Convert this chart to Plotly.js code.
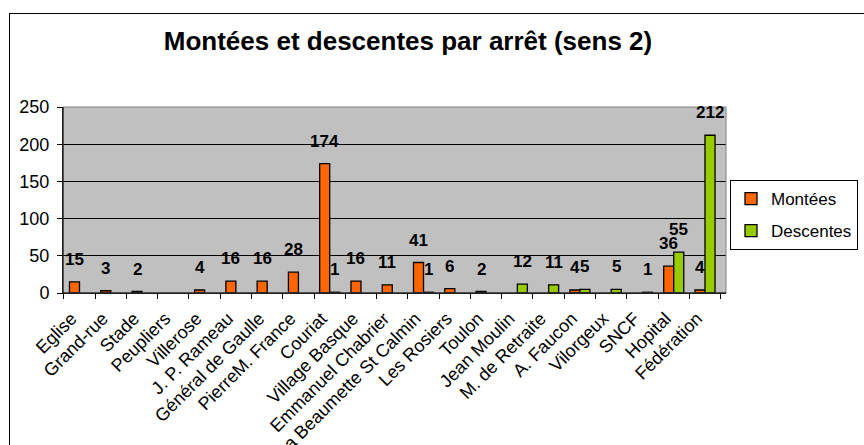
<!DOCTYPE html>
<html>
<head>
<meta charset="utf-8">
<script src="https://cdn.plot.ly/plotly-3.0.1.min.js"></script>
<style>
  html, body { margin: 0; padding: 0; background: #fff; }
  #wrap { position: relative; width: 864px; height: 445px; overflow: hidden; }
  #chart { position: absolute; left: 0; top: 0; width: 864px; height: 445px; }
  #frame { position: absolute; left: 9px; top: 13px; width: 900px; height: 500px; border: 1px solid #000; pointer-events: none; }
</style>
</head>
<body>
<div id="wrap">
  <div id="chart"></div>
  <div id="frame"></div>
</div>
<script>
const stops = ["Eglise", "Grand-rue", "Stade", "Peupliers", "Villerose", "J. P. Rameau",
  "Général de Gaulle", "PierreM. France", "Couriat", "Village Basque", "Emmanuel Chabrier",
  "La Beaumette St Calmin", "Les Rosiers", "Toulon", "Jean Moulin", "M. de Retraite",
  "A. Faucon", "Vilorgeux", "SNCF", "Hopital", "Fédération"];
const montees = [15, 3, 2, null, 4, 16, 16, 28, 174, 16, 11, 41, 6, 2, null, null, 4, null, null, 36, 4];
const descentes = [null, null, null, null, null, null, null, null, 1, null, null, 1, null, null, 12, 11, 5, 5, 1, 55, 212];

const yTicks = [0, 50, 100, 150, 200, 250];

const font = "Arial, 'Liberation Sans', sans-serif";

function labels(vals, shift) {
  const out = [];
  vals.forEach((v, i) => {
    if (v !== null && v !== undefined) {
      out.push({
        x: stops[i], y: v, xref: 'x', yref: 'y',
        text: String(v), showarrow: false,
        xanchor: 'center', yanchor: 'bottom',
        xshift: shift, yshift: 11,
        font: {family: font, size: 17, color: '#000', weight: 'bold'}
      });
    }
  });
  return out;
}

const traces = [
  {type: 'bar', name: 'Montées', x: stops, y: montees, legendgroup: 'a',
   marker: {color: '#FF6600', line: {color: '#000', width: 1.3}}, hoverinfo: 'x+y'},
  {type: 'bar', name: 'Descentes', x: stops, y: descentes, legendgroup: 'b',
   marker: {color: '#99CC00', line: {color: '#000', width: 1.3}}, hoverinfo: 'x+y'}
];

const layout = {
  width: 864, height: 445,
  margin: {l: 63, r: 138, t: 107, b: 152},
  paper_bgcolor: 'rgba(0,0,0,0)',
  plot_bgcolor: '#C0C0C0',
  barmode: 'group', bargap: 0.36, bargroupgap: 0,
  font: {family: font, size: 17, color: '#000'},
  title: {
    text: '<b>Montées et descentes par arrêt (sens 2)</b>',
    font: {family: font, size: 26, color: '#000'},
    x: 408 / 864, xanchor: 'center', y: 1 - 41 / 445, yanchor: 'middle'
  },
  xaxis: {
    type: 'category', tickangle: -45, automargin: false,
    tickson: 'boundaries', ticks: 'outside', ticklen: 5, tickcolor: '#000',
    ticklabelshift: -8, ticklabelstandoff: 7,
    showline: true, linecolor: '#000', linewidth: 1,
    showgrid: false, tickfont: {family: font, size: 18, color: '#000'}
  },
  yaxis: {
    range: [0, 250], tickvals: yTicks, ticktext: yTicks.map(String), automargin: false,
    ticks: 'outside', ticklen: 5, tickcolor: '#000', ticklabelstandoff: 4,
    showline: true, linecolor: '#000', linewidth: 1,
    showgrid: true, gridcolor: '#000', gridwidth: 1, zeroline: false,
    tickfont: {family: font, size: 18, color: '#000'}
  },
  showlegend: true,
  legend: {
    xref: 'container', yref: 'container',
    x: 858 / 864, xanchor: 'right', y: 1 - 180 / 445, yanchor: 'top',
    bgcolor: '#fff', bordercolor: '#000', borderwidth: 1,
    font: {family: font, size: 17, color: '#000'},
    tracegroupgap: 7, traceorder: 'grouped', itemwidth: 30
  },
  shapes: [
    {type: 'rect', xref: 'paper', yref: 'paper', x0: 0, x1: 1, y0: 0, y1: 1,
     line: {color: '#808080', width: 1}, layer: 'above'},
    {type: 'line', xref: 'paper', yref: 'paper', x0: 0, x1: 0, y0: 0, y1: 1,
     line: {color: '#000', width: 1}, layer: 'above'},
    {type: 'line', xref: 'paper', yref: 'paper', x0: 0, x1: 1, y0: 0, y1: 0,
     line: {color: '#000', width: 1}, layer: 'above'}
  ],
  annotations: labels(montees, -5).concat(labels(descentes, 5))
};

Plotly.newPlot('chart', traces, layout, {displayModeBar: false, staticPlot: true});
</script>
</body>
</html>
